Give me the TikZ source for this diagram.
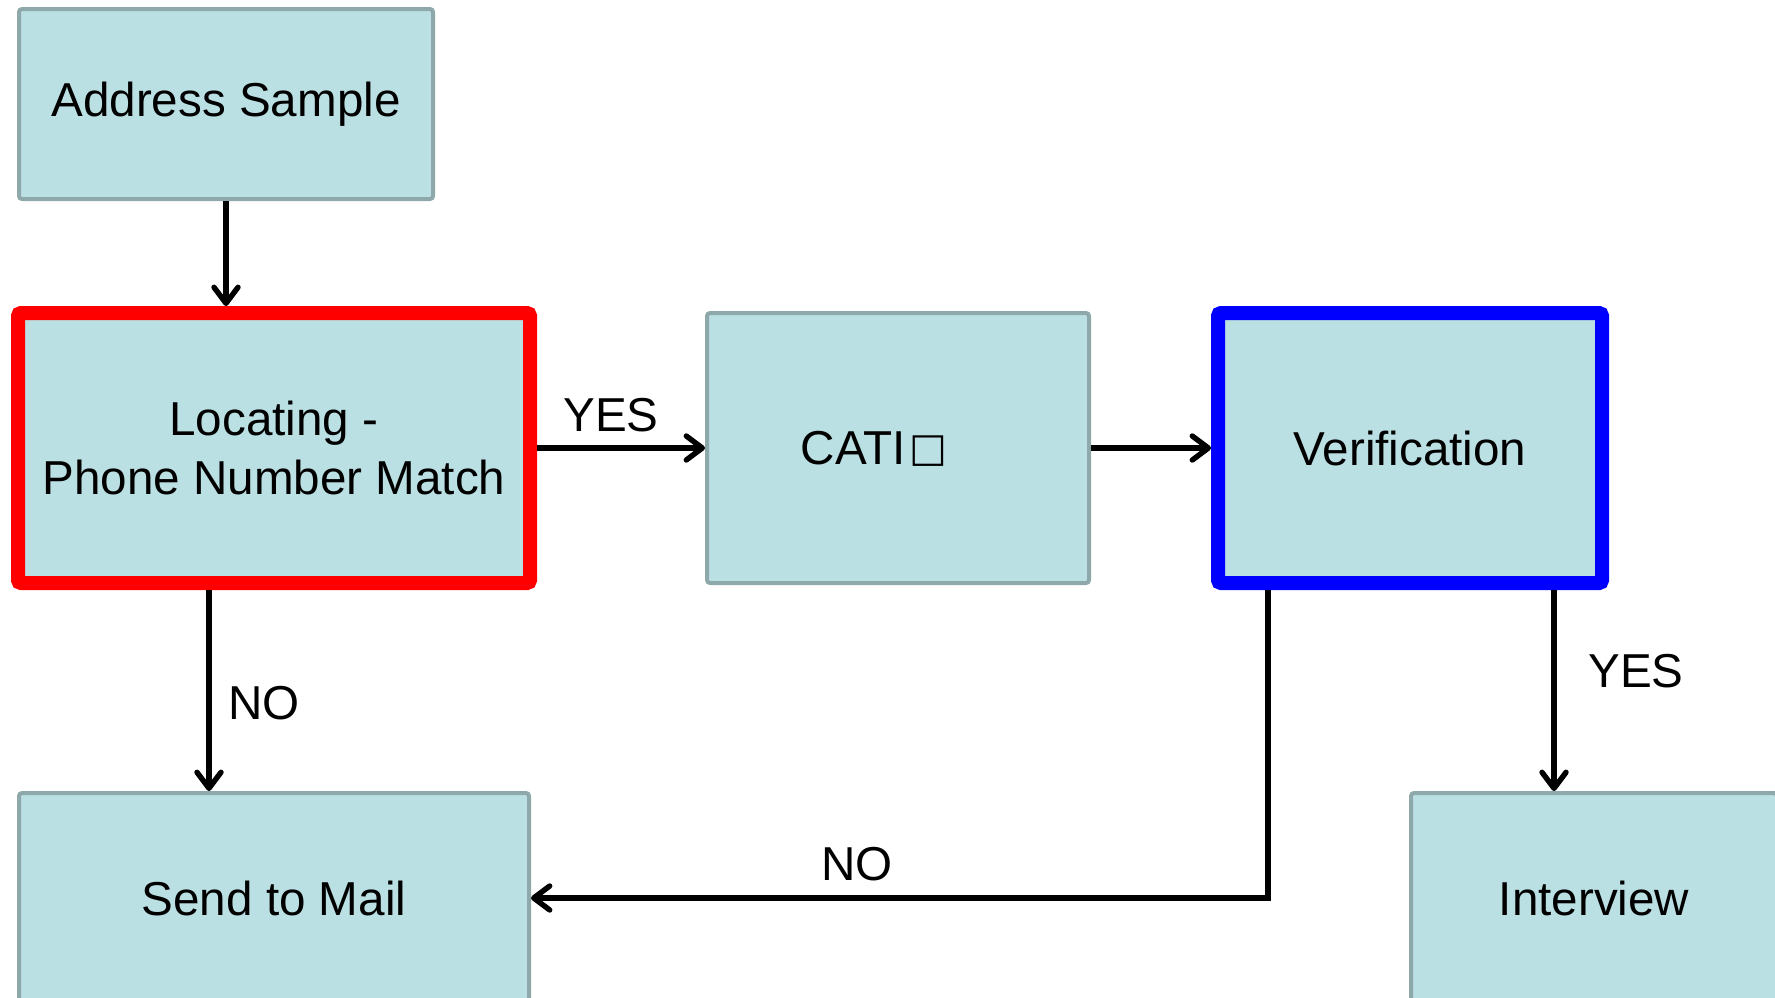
\documentclass[tikz,border=0pt]{standalone}
\usepackage{fontspec}
\setmainfont{Liberation Sans}
\newfontfamily\symfont{DejaVu Sans}
\usetikzlibrary{arrows.meta}
\definecolor{boxfill}{HTML}{BBE0E3}
\definecolor{boxline}{HTML}{8FA8AC}
\begin{document}
\begin{tikzpicture}[x=0.5pt,y=-0.5pt,
  txt/.style={font=\fontsize{23.8pt}{29.5pt}\selectfont, text=black},
  plainbox/.style={txt, draw=boxline, fill=boxfill, line width=2pt, rounded corners=1.5pt, inner sep=0pt},
  redbox/.style={txt, draw=red, fill=boxfill, line width=7pt, rounded corners=1.5pt, inner sep=0pt, align=center},
  bluebox/.style={txt, draw=blue, fill=boxfill, line width=7pt, rounded corners=1.5pt, inner sep=0pt},
  lbl/.style={txt, inner sep=0pt},
  arr/.style={line width=2.7pt, -{Straight Barb[length=8pt,width=12pt,round]}}]
\useasboundingbox (0,0) rectangle (1775,997);
\clip (0,0) rectangle (1775,997);
\fill[white] (0,0) rectangle (1775,997);

\node[plainbox, minimum width=207pt, minimum height=95pt] (addr) at (226,104) {Address Sample};
\node[redbox, minimum width=256pt, minimum height=135pt] (loc) at (274,448) {Locating -\\Phone Number Match};
\node[plainbox, minimum width=191pt, minimum height=135pt] (cati) at (898,448) {CATI\kern2pt\smash{\raisebox{1.5pt}{\symfont\fontsize{20pt}{20pt}\selectfont □}}\hspace*{24pt}};
\node[bluebox, minimum width=192pt, minimum height=135pt] (ver) at (1410,448) {Verification};
\node[plainbox, minimum width=255pt, minimum height=105pt] (send) at (274,898) {Send to Mail};
\node[plainbox, minimum width=183pt, minimum height=105pt] (int) at (1594,898) {Interview};

\node[lbl] (yes1) at (611,415) {YES};
\node[lbl] (no1) at (264,703) {NO};
\node[lbl] (yes2) at (1636,671) {YES};
\node[lbl] (no2) at (857,864) {NO};

\draw[arr] (addr.south) -- (addr.south |- loc.north);
\draw[arr] (loc.east) -- (cati.west);
\draw[arr] (cati.east) -- (ver.west);
\draw[arr] ([xshift=-32.5pt]loc.south) -- ([xshift=-32.5pt]send.north);
\draw[arr] ([xshift=72pt]ver.south) -- ([xshift=72pt]ver.south |- int.north);
\draw[arr] ([xshift=-71pt]ver.south) |- (send.east);
\end{tikzpicture}
\end{document}
